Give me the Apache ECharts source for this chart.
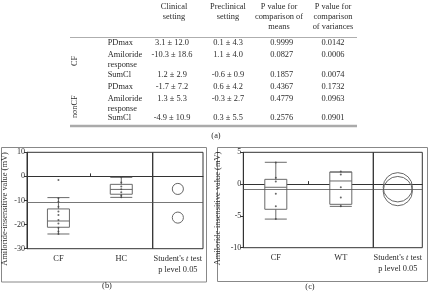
<!DOCTYPE html>
<html>
<head>
<meta charset="utf-8">
<script src="https://cdn.jsdelivr.net/npm/echarts@6/dist/echarts.min.js"></script>
<style>
  html, body { margin: 0; padding: 0; background: #fff; }
  #main { width: 432px; height: 293px; }
</style>
</head>
<body>
<div id="main"></div>
<script>
// table (a)
const tableHeaders = ['Clinical\nsetting', 'Preclinical\nsetting', 'P value for\ncomparison of\nmeans', 'P value for\ncomparison\nof variances'];
const tableGroups = ['CF', 'nonCF'];
const tableMeasures = ['PDmax', 'Amiloride\nresponse', 'SumCl', 'PDmax', 'Amiloride\nresponse', 'SumCl'];
const clinicalVals = ['3.1 ± 12.0', '-10.3 ± 18.6', '1.2 ± 2.9', '-1.7 ± 7.2', '1.3 ± 5.3', '-4.9 ± 10.9'];
const preclinicalVals = ['0.1 ± 4.3', '1.1 ± 4.0', '-0.6 ± 0.9', '0.6 ± 4.2', '-0.3 ± 2.7', '0.3 ± 5.5'];
const pMeans = ['0.9999', '0.0827', '0.1857', '0.4367', '0.4779', '0.2576'];
const pVars = ['0.0142', '0.0006', '0.0074', '0.1732', '0.0963', '0.0901'];

// panel (b): CF vs HC
const groupsB = ['CF', 'HC'];
const boxB = [
  [-23.9, -21.1, -18.5, -13.5, -8.8],
  [-8.7, -7.4, -5.4, -3.3, -0.4]
];
const cfPointsB = [-1.5, -9.1, -10.5, -12.6, -14.6, -16.0, -18.1, -19.5, -21.3, -22.9, -23.9];
const hcPointsB = [-0.4, -2.5, -4.2, -5.3, -6.6, -7.8, -8.7];
const grandMeanB = -10.9;
const circlesB = [[-5.2, 2.3], [-17.1, 2.3]]; // [mean, radius]
const ticksB = [-30, -20, -10, 0, 10];

// panel (c): CF vs WT
const groupsC = ['CF', 'WT'];
const boxC = [
  [-5.5, -3.96, -0.5, 0.75, 3.43],
  [-3.5, -3.18, 0.49, 1.9, 1.9]
];
const cfPointsC = [3.4, 1.0, 0.4, -1.5, -3.5, -5.5];
const wtPointsC = [2.0, 1.5, -0.5, -2.1, -3.5];
const grandMeanC = -0.8;
const circlesC = [[-0.5, 2.3], [-1.1, 2.3]];
const ticksC = [-10, -5, 0, 5];

const testLabel = "Student's t test";
const yName = 'Amiloride-insensitive value (mV)';

const serif = '"Liberation Serif", "DejaVu Serif", serif';
const ink = '#2b2b2b';
const fs = 8.4;

const chart = echarts.init(document.getElementById('main'));

// table graphic built from arrays
const colX = [174, 228, 279, 333];
const rowY = [43.3, 55, 75, 87.3, 99.3, 118.3];
const tableEls = [];
tableHeaders.forEach((h, i) => {
  tableEls.push({ type: 'text', x: colX[i], y: 2, style: { text: h, font: fs + 'px ' + serif, fill: ink, align: 'center', verticalAlign: 'top', lineHeight: 10 } });
});
const valueCols = [clinicalVals, preclinicalVals, pMeans, pVars];
const valueX = [172, 228, 281.7, 333];
tableMeasures.forEach((m, r) => {
  tableEls.push({ type: 'text', x: 107.7, y: rowY[r] - 5, style: { text: m, font: fs + 'px ' + serif, fill: ink, align: 'left', verticalAlign: 'top', lineHeight: 10 } });
  valueCols.forEach((col, c) => {
    tableEls.push({ type: 'text', x: valueX[c], y: rowY[r] - 5, style: { text: col[r], font: fs + 'px ' + serif, fill: ink, align: 'center', verticalAlign: 'top', lineHeight: 10 } });
  });
});
const groupY = [61, 106.7];
tableGroups.forEach((g, i) => {
  tableEls.push({ type: 'text', x: 75, y: groupY[i], rotation: Math.PI / 2, style: { text: g, font: fs + 'px ' + serif, fill: ink, align: 'center', verticalAlign: 'middle' } });
});
tableEls.push({ type: 'line', shape: { x1: 70, y1: 37.5, x2: 357, y2: 37.5 }, style: { stroke: '#999', lineWidth: 0.8 } });
tableEls.push({ type: 'line', shape: { x1: 70, y1: 126, x2: 357, y2: 126 }, style: { stroke: '#aaa', lineWidth: 2.5 } });
tableEls.push({ type: 'text', x: 216, y: 136, style: { text: '(a)', font: fs + 'px ' + serif, fill: ink, align: 'center', verticalAlign: 'middle' } });

// panel frames and captions
tableEls.push({ type: 'rect', shape: { x: 1.5, y: 147.5, width: 205, height: 134.5 }, style: { fill: 'none', stroke: '#888', lineWidth: 1 } });
tableEls.push({ type: 'rect', shape: { x: 217.5, y: 147.5, width: 210, height: 134 }, style: { fill: 'none', stroke: '#888', lineWidth: 1 } });
tableEls.push({ type: 'text', x: 107, y: 286, style: { text: '(b)', font: fs + 'px ' + serif, fill: ink, align: 'center', verticalAlign: 'middle' } });
tableEls.push({ type: 'text', x: 310, y: 286.5, style: { text: '(c)', font: fs + 'px ' + serif, fill: ink, align: 'center', verticalAlign: 'middle' } });

const lbl = { fontFamily: serif, fontSize: fs, color: ink };

function catAxis(gi, data) {
  return {
    gridIndex: gi, type: 'category', data: data,
    axisLine: { lineStyle: { color: '#333', width: 1 } },
    axisTick: { show: true, inside: true, length: 3, lineStyle: { color: '#333' } },
    axisLabel: Object.assign({ margin: 6 }, lbl),
    splitLine: { show: false }
  };
}
function testAxis(gi) {
  return {
    gridIndex: gi, type: 'category', data: [testLabel],
    axisLine: { lineStyle: { color: '#333', width: 1 } },
    axisTick: { show: false },
    axisLabel: {
      margin: 5,
      formatter: () => "{n|Student's }{i|t}{n| test}\n{n|p level 0.05}",
      rich: {
        n: { fontFamily: serif, fontSize: fs, color: ink, lineHeight: 11 },
        i: { fontFamily: serif, fontSize: fs, color: ink, fontStyle: 'italic', lineHeight: 11 }
      }
    }
  };
}
function valAxis(gi, ticks, gap) {
  return {
    gridIndex: gi, type: 'value', min: ticks[0], max: ticks[ticks.length - 1], interval: ticks[1] - ticks[0],
    name: yName, nameLocation: 'middle', nameGap: gap,
    nameTextStyle: { fontFamily: serif, fontSize: fs, color: ink, padding: [0, 17, 0, 0] },
    axisLine: { show: true, lineStyle: { color: '#333', width: 1 } },
    axisTick: { show: true, length: 3, lineStyle: { color: '#333' } },
    axisLabel: Object.assign({ margin: 2 }, lbl, { fontSize: 8 }),
    splitLine: { show: false }
  };
}
function hiddenAxis(gi, ticks) {
  return { gridIndex: gi, type: 'value', min: ticks[0], max: ticks[ticks.length - 1], show: false, splitLine: { show: false } };
}

const refLine = (v) => ({
  silent: true, symbol: 'none', label: { show: false },
  lineStyle: { color: '#555', type: 'solid', width: 0.8 },
  data: [{ yAxis: v }]
});

function circleSeries(xi, circles, mean) {
  return {
    type: 'custom', xAxisIndex: xi, yAxisIndex: xi,
    data: circles.map(c => [0, c[0], c[1]]),
    renderItem: (params, api) => {
      const p = api.coord([api.value(0), api.value(1)]);
      const r = api.size([0, api.value(2)])[1];
      return { type: 'circle', shape: { cx: p[0], cy: p[1], r: r }, style: { fill: 'none', stroke: '#666', lineWidth: 1 } };
    },
    markLine: refLine(mean)
  };
}
function pointSeries(xi, a, b) {
  return {
    type: 'scatter', xAxisIndex: xi, yAxisIndex: xi, symbolSize: 2,
    itemStyle: { color: '#444' },
    data: a.map(v => [0, v]).concat(b.map(v => [1, v]))
  };
}
function boxSeries(xi, data, mean) {
  return {
    type: 'boxplot', xAxisIndex: xi, yAxisIndex: xi, data: data, boxWidth: [22, 22],
    itemStyle: { color: '#fff', borderColor: '#6a6a6a', borderWidth: 1 },
    markLine: refLine(mean)
  };
}

const option = {
  animation: false,
  grid: [
    { left: 26, top: 152.3, width: 126.7, height: 96.4, show: true, borderColor: '#333', borderWidth: 1, containLabel: false },
    { left: 152.7, top: 152.3, width: 50.3, height: 96.4, show: true, borderColor: '#333', borderWidth: 1, containLabel: false },
    { left: 243.3, top: 152.3, width: 130, height: 95.4, show: true, borderColor: '#333', borderWidth: 1, containLabel: false },
    { left: 373.3, top: 152.3, width: 49, height: 95.4, show: true, borderColor: '#333', borderWidth: 1, containLabel: false }
  ],
  xAxis: [catAxis(0, groupsB), testAxis(1), catAxis(2, groupsC), testAxis(3)],
  yAxis: [valAxis(0, ticksB, 18), hiddenAxis(1, ticksB), valAxis(2, ticksC, 21), hiddenAxis(3, ticksC)],
  series: [
    boxSeries(0, boxB, grandMeanB),
    pointSeries(0, cfPointsB, hcPointsB),
    circleSeries(1, circlesB, grandMeanB),
    boxSeries(2, boxC, grandMeanC),
    pointSeries(2, cfPointsC, wtPointsC),
    circleSeries(3, circlesC, grandMeanC)
  ],
  graphic: tableEls
};
chart.setOption(option);
</script>
</body>
</html>
